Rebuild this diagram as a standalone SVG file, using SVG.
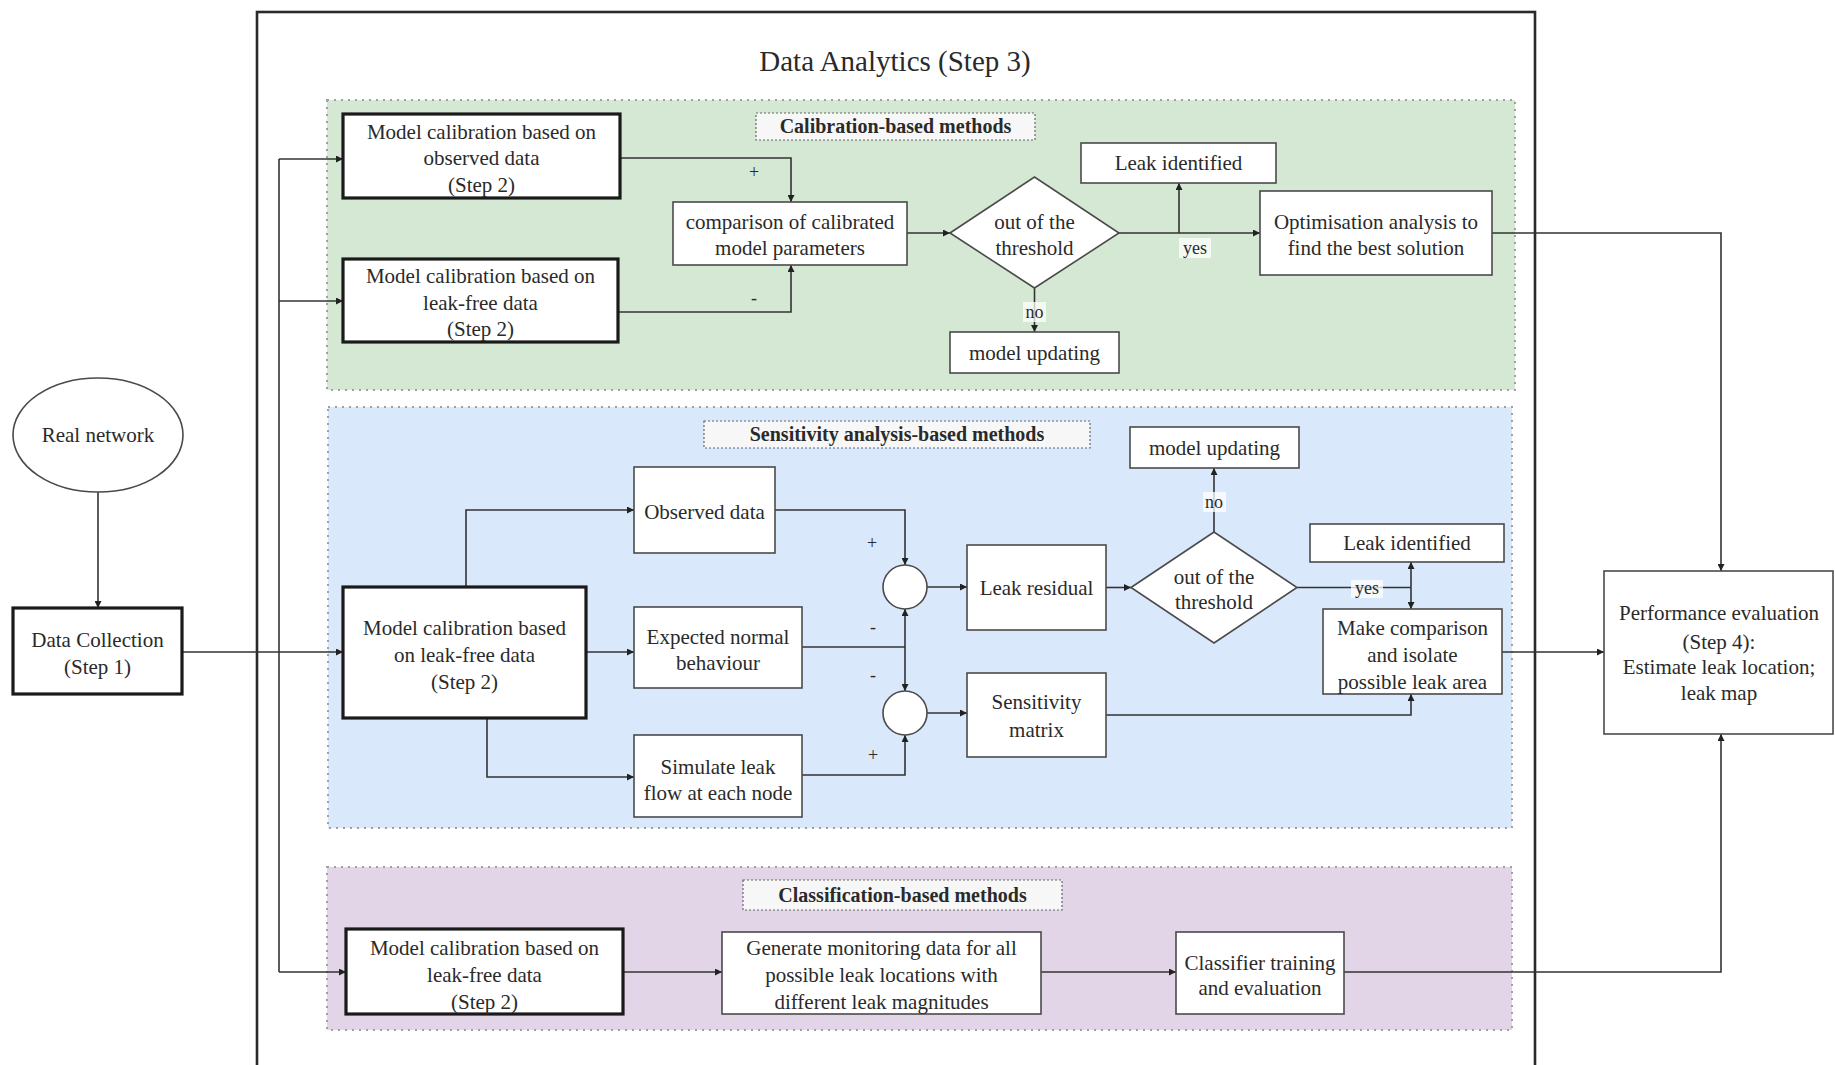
<svg xmlns="http://www.w3.org/2000/svg" width="1835" height="1065" viewBox="0 0 1835 1065">
<defs>
<marker id="arr" viewBox="0 0 10 10" refX="10" refY="5" markerWidth="7" markerHeight="7" markerUnits="userSpaceOnUse" orient="auto">
<path d="M0,0 L10,5 L0,10 z" fill="#222"/>
</marker>
<style>
.t{font-family:"Liberation Serif","Times New Roman",serif;font-size:21px;fill:#2a2a2a;text-anchor:middle}
.b{font-weight:bold;font-size:20px}
.s{font-size:18px}
.box{fill:#fff;stroke:#4a4a4a;stroke-width:1.6}
.thick{fill:#fff;stroke:#1a1a1a;stroke-width:3.2}
.lbl{fill:#f7f7f7;stroke:#666;stroke-width:1.2;stroke-dasharray:2 2}
.panel{stroke:#a0a0a0;stroke-width:2;stroke-dasharray:2 5}
.c{fill:none;stroke:#333;stroke-width:1.6}
.ca{fill:none;stroke:#333;stroke-width:1.6;marker-end:url(#arr)}
.eb{fill:#fff;fill-opacity:0.75}
</style>
</defs>
<rect width="1835" height="1065" fill="#fff"/>

<g id="frame">
<rect x="257" y="12" width="1278" height="1090" fill="none" stroke="#2a2a2a" stroke-width="2.6"/>
<text class="t" x="895" y="71" style="font-size:29px">Data Analytics (Step 3)</text>
</g>

<g id="panels">
<rect id="panel-calibration" class="panel" x="327" y="100" width="1188" height="290" fill="#d5e8d4"/>
<rect id="panel-sensitivity" class="panel" x="328" y="407" width="1184" height="421" fill="#dae8fc"/>
<rect id="panel-classification" class="panel" x="327" y="867" width="1185" height="163" fill="#e1d5e7"/>
</g>

<g id="connectors">
<!-- left side -->
<path class="ca" d="M98,492 V608"/>
<path class="ca" d="M182,652 H343"/>
<path class="c" d="M279,159 V972"/>
<path class="ca" d="M279,159 H343"/>
<path class="ca" d="M279,301 H343"/>
<path class="ca" d="M279,972 H346"/>
<!-- calibration -->
<path class="ca" d="M620,158 H791 V202"/>
<path class="ca" d="M618,312 H791 V265"/>
<path class="ca" d="M907,233 H950"/>
<path class="ca" d="M1119,233 H1260"/>
<path class="ca" d="M1179,233 V183"/>
<path class="ca" d="M1034.5,288 V332"/>
<path class="ca" d="M1492,233 H1721 V571"/>
<!-- sensitivity -->
<path class="ca" d="M466,587 V510 H634"/>
<path class="ca" d="M586,652 H634"/>
<path class="ca" d="M487,718 V777 H634"/>
<path class="ca" d="M775,510 H905 V565"/>
<path class="c" d="M802,647 H905"/>
<path class="ca" d="M905,647 V609"/>
<path class="ca" d="M905,647 V691"/>
<path class="ca" d="M802,775 H905 V735"/>
<path class="ca" d="M927,587 H967"/>
<path class="ca" d="M927,713 H967"/>
<path class="ca" d="M1106,587.5 H1131"/>
<path class="ca" d="M1214,532 V468"/>
<path class="c" d="M1297,587.5 H1411"/>
<path class="ca" d="M1411,587.5 V562"/>
<path class="ca" d="M1411,587.5 V609"/>
<path class="ca" d="M1106,715 H1411 V694"/>
<path class="ca" d="M1502,652 H1604"/>
<!-- classification -->
<path class="ca" d="M623,972 H722"/>
<path class="ca" d="M1041,972 H1176"/>
<path class="ca" d="M1344,972 H1721 V734"/>
<!-- edge labels -->
<text class="t s" x="754" y="178">+</text>
<text class="t s" x="754" y="304">-</text>
<rect class="eb" x="1179" y="238" width="32" height="20"/>
<text class="t s" x="1195" y="254">yes</text>
<rect class="eb" x="1023" y="302" width="23" height="20"/>
<text class="t s" x="1034.5" y="318">no</text>
<text class="t s" x="872" y="549">+</text>
<text class="t s" x="873" y="633">-</text>
<text class="t s" x="873" y="681">-</text>
<text class="t s" x="873" y="761">+</text>
<rect class="eb" x="1203" y="492" width="23" height="20"/>
<text class="t s" x="1214" y="508">no</text>
<rect class="eb" x="1351" y="580" width="32" height="18"/>
<text class="t s" x="1367" y="594">yes</text>
</g>

<g id="real-network">
<ellipse cx="98" cy="435" rx="85" ry="57" fill="#fff" stroke="#4a4a4a" stroke-width="1.6"/>
<text class="t" x="98" y="442">Real network</text>
</g>
<g id="data-collection">
<rect class="thick" x="13" y="608" width="169" height="86"/>
<text class="t" x="97.5" y="647">Data Collection</text>
<text class="t" x="97.5" y="674">(Step 1)</text>
</g>

<g id="cal-label">
<rect class="lbl" x="756" y="113" width="279" height="27"/>
<text class="t b" x="895.5" y="133">Calibration-based methods</text>
</g>
<g id="cal-observed">
<rect class="thick" x="343" y="114" width="277" height="84"/>
<text class="t" x="481.5" y="139">Model calibration based on</text>
<text class="t" x="481.5" y="165">observed data</text>
<text class="t" x="481.5" y="192">(Step 2)</text>
</g>
<g id="cal-leakfree">
<rect class="thick" x="343" y="259" width="275" height="83"/>
<text class="t" x="480.5" y="283">Model calibration based on</text>
<text class="t" x="480.5" y="310">leak-free data</text>
<text class="t" x="480.5" y="336">(Step 2)</text>
</g>
<g id="cal-comparison">
<rect class="box" x="673" y="202" width="234" height="63"/>
<text class="t" x="790" y="229">comparison of calibrated</text>
<text class="t" x="790" y="255">model parameters</text>
</g>
<g id="cal-threshold">
<polygon class="box" points="950,233 1034.5,177 1119,233 1034.5,288"/>
<text class="t" x="1034.5" y="229">out of the</text>
<text class="t" x="1034.5" y="255">threshold</text>
</g>
<g id="cal-leak-identified">
<rect class="box" x="1081" y="143" width="195" height="40"/>
<text class="t" x="1178.5" y="170">Leak identified</text>
</g>
<g id="cal-model-updating">
<rect class="box" x="950" y="332" width="169" height="41"/>
<text class="t" x="1034.5" y="360">model updating</text>
</g>
<g id="cal-optimisation">
<rect class="box" x="1260" y="191" width="232" height="84"/>
<text class="t" x="1376" y="229">Optimisation analysis to</text>
<text class="t" x="1376" y="255">find the best solution</text>
</g>

<g id="sens-label">
<rect class="lbl" x="704" y="421" width="386" height="27"/>
<text class="t b" x="897" y="441">Sensitivity analysis-based methods</text>
</g>
<g id="sens-model">
<rect class="thick" x="343" y="587" width="243" height="131"/>
<text class="t" x="464.5" y="635">Model calibration based</text>
<text class="t" x="464.5" y="662">on leak-free data</text>
<text class="t" x="464.5" y="689">(Step 2)</text>
</g>
<g id="sens-observed">
<rect class="box" x="634" y="467" width="141" height="86"/>
<text class="t" x="704.5" y="519">Observed data</text>
</g>
<g id="sens-expected">
<rect class="box" x="634" y="607" width="168" height="81"/>
<text class="t" x="718" y="644">Expected normal</text>
<text class="t" x="718" y="670">behaviour</text>
</g>
<g id="sens-simulate">
<rect class="box" x="634" y="735" width="168" height="82"/>
<text class="t" x="718" y="774">Simulate leak</text>
<text class="t" x="718" y="800">flow at each node</text>
</g>
<g id="sum-1">
<circle class="box" cx="905" cy="587" r="22"/>
</g>
<g id="sum-2">
<circle class="box" cx="905" cy="713" r="22"/>
</g>
<g id="sens-residual">
<rect class="box" x="967" y="545" width="139" height="85"/>
<text class="t" x="1036.5" y="595">Leak residual</text>
</g>
<g id="sens-matrix">
<rect class="box" x="967" y="673" width="139" height="84"/>
<text class="t" x="1036.5" y="709">Sensitivity</text>
<text class="t" x="1036.5" y="737">matrix</text>
</g>
<g id="sens-threshold">
<polygon class="box" points="1131,587.5 1214,532 1297,587.5 1214,643"/>
<text class="t" x="1214" y="584">out of the</text>
<text class="t" x="1214" y="609">threshold</text>
</g>
<g id="sens-model-updating">
<rect class="box" x="1130" y="427" width="169" height="41"/>
<text class="t" x="1214.5" y="455">model updating</text>
</g>
<g id="sens-leak-identified">
<rect class="box" x="1310" y="524" width="194" height="38"/>
<text class="t" x="1407" y="550">Leak identified</text>
</g>
<g id="sens-comparison">
<rect class="box" x="1323" y="609" width="179" height="85"/>
<text class="t" x="1412.5" y="635">Make comparison</text>
<text class="t" x="1412.5" y="662">and isolate</text>
<text class="t" x="1412.5" y="689">possible leak area</text>
</g>

<g id="performance">
<rect class="box" x="1604" y="571" width="229" height="163"/>
<text class="t" x="1719" y="620">Performance evaluation</text>
<text class="t" x="1719" y="649">(Step 4):</text>
<text class="t" x="1719" y="674">Estimate leak location;</text>
<text class="t" x="1719" y="700">leak map</text>
</g>

<g id="class-label">
<rect class="lbl" x="743" y="880" width="319" height="30"/>
<text class="t b" x="902.5" y="902">Classification-based methods</text>
</g>
<g id="class-model">
<rect class="thick" x="346" y="929" width="277" height="85"/>
<text class="t" x="484.5" y="955">Model calibration based on</text>
<text class="t" x="484.5" y="982">leak-free data</text>
<text class="t" x="484.5" y="1009">(Step 2)</text>
</g>
<g id="class-generate">
<rect class="box" x="722" y="932" width="319" height="82"/>
<text class="t" x="881.5" y="955">Generate monitoring data for all</text>
<text class="t" x="881.5" y="982">possible leak locations with</text>
<text class="t" x="881.5" y="1009">different leak magnitudes</text>
</g>
<g id="class-classifier">
<rect class="box" x="1176" y="932" width="168" height="82"/>
<text class="t" x="1260" y="970">Classifier training</text>
<text class="t" x="1260" y="995">and evaluation</text>
</g>
</svg>
